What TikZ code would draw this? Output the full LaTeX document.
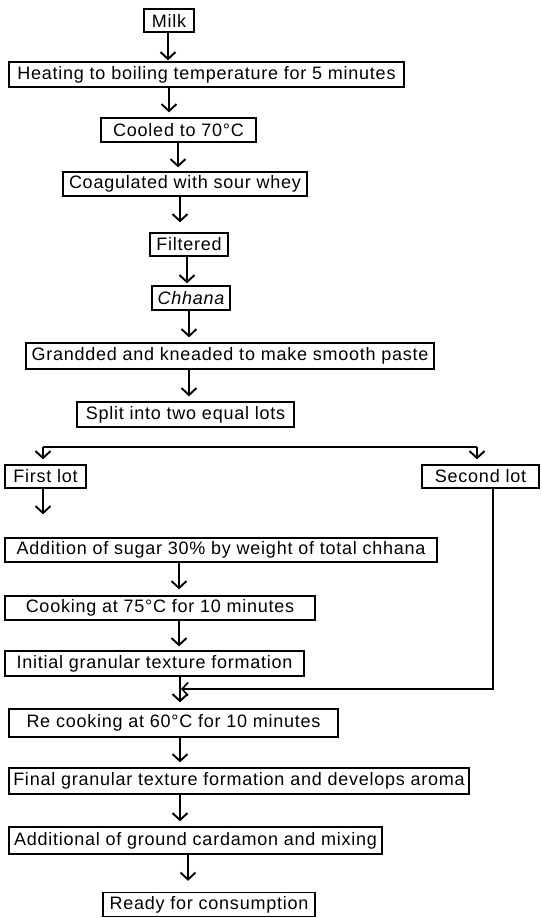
\documentclass[tikz,border=0pt]{standalone}
\usepackage{fontspec}
\setmainfont{Liberation Sans}[LetterSpace=4.2]
\usetikzlibrary{arrows.meta,calc}
\begin{document}
\begin{tikzpicture}[x=1pt,y=-1pt,
  box/.style={draw, line width=1.3pt, inner sep=0pt, font=\fontsize{18}{20}\selectfont},
  arr/.style={line width=1.9pt, -{Straight Barb[length=7pt,width=15pt,line width=1.9pt]}},
  ln/.style={line width=1.6pt}]
\useasboundingbox (0,0) rectangle (541,918);
% boxes: center, width, height
\node[box, minimum width=50pt,  minimum height=23pt] (milk)   at (169,20.5)  {Milk};
\node[box, minimum width=395pt, minimum height=25pt] (heat)   at (206.5,74.5) {Heating to boiling temperature for 5 minutes};
\node[box, minimum width=155pt, minimum height=24pt] (cool)   at (178.5,130) {Cooled to 70°C};
\node[box, minimum width=244pt, minimum height=24pt] (coag)   at (185,184)   {Coagulated with sour whey};
\node[box, minimum width=78pt,  minimum height=23pt] (filt)   at (189,244.5) {Filtered};
\node[box, minimum width=78pt,  minimum height=24pt] (chh)    at (191,298)   {\itshape Chhana};
\node[box, minimum width=408pt, minimum height=26pt] (grand)  at (230,356)   {Grandded and kneaded to make smooth paste};
\node[box, minimum width=217pt, minimum height=25pt] (split)  at (185.5,414.5) {Split into two equal lots};
\node[box, minimum width=81pt,  minimum height=23pt] (first)  at (45.5,476.5) {First lot};
\node[box, minimum width=117pt, minimum height=23pt] (second) at (480.5,476.5) {Second lot};
\node[box, minimum width=432pt, minimum height=24pt] (addn)   at (221,550)   {Addition of sugar 30\% by weight of total chhana};
\node[box, minimum width=310pt, minimum height=24pt] (cook)   at (160,608)   {Cooking at 75°C for 10 minutes};
\node[box, minimum width=299pt, minimum height=25pt] (init)   at (154.5,663.5) {Initial granular texture formation};
\node[box, minimum width=329pt, minimum height=28pt] (recook) at (173.5,723) {Re cooking at 60°C for 10 minutes};
\node[box, minimum width=460pt, minimum height=26pt] (final)  at (239,781)   {Final granular texture formation and develops aroma};
\node[box, minimum width=373pt, minimum height=27pt] (addl)   at (195.5,840.5) {Additional of ground cardamon and mixing};
\node[box, minimum width=212pt, minimum height=24pt] (ready)  at (209,904.5) {Ready for consumption};
% arrow columns
\coordinate (c1) at (168,0);
\coordinate (c2) at (169,0);
\coordinate (c3) at (178,0);
\coordinate (c4) at (180,0);
\coordinate (c5) at (187,0);
\coordinate (c6) at (189,0);
\coordinate (c8) at (179,0);
\coordinate (c10) at (180,0);
\coordinate (c13) at (188,0);
\draw[arr, shorten >=1pt]  (milk.south -| c1)  -- (heat.north -| c1);
\draw[arr, shorten >=5pt]  (heat.south -| c2)  -- (cool.north -| c2);
\draw[arr, shorten >=4pt]  (cool.south -| c3)  -- (coag.north -| c3);
\draw[arr, shorten >=10pt] (coag.south -| c4)  -- (filt.north -| c4);
\draw[arr, shorten >=2pt]  (filt.south -| c5)  -- (chh.north -| c5);
\draw[arr, shorten >=5pt]  (chh.south -| c6)   -- (grand.north -| c6);
\draw[arr, shorten >=5pt]  (grand.south -| c6) -- (split.north -| c6);
% split line
\coordinate (hl) at (43,447);
\coordinate (hr) at (477,447);
\draw[ln] (hl) -- (hr);
\draw[arr, shorten >=5pt] (hl) -- (first.north -| hl);
\draw[arr, shorten >=5pt] (hr) -- (second.north -| hr);
\draw[arr, shorten >=23pt] (first.south -| hl) -- (addn.north -| hl);
\draw[arr, shorten >=6pt] (addn.south -| c8) -- (cook.north -| c8);
\draw[arr, shorten >=4pt] (cook.south -| c8) -- (init.north -| c8);
\draw[arr, shorten >=6pt] (init.south -| c10) -- (recook.north -| c10);
% second lot return
\coordinate (s2) at (493,689);
\coordinate (j) at (181,689);
\draw[ln, -{Straight Barb[length=6pt,width=13pt,line width=1.6pt]}] (second.south -| s2) -- (s2) -- (j);
\draw[arr, shorten >=5pt]  (recook.south -| c10) -- (final.north -| c10);
\draw[arr, shorten >=5pt]  (final.south -| c10)  -- (addl.north -| c10);
\draw[arr, shorten >=11pt] (addl.south -| c13)   -- (ready.north -| c13);
\end{tikzpicture}
\end{document}
